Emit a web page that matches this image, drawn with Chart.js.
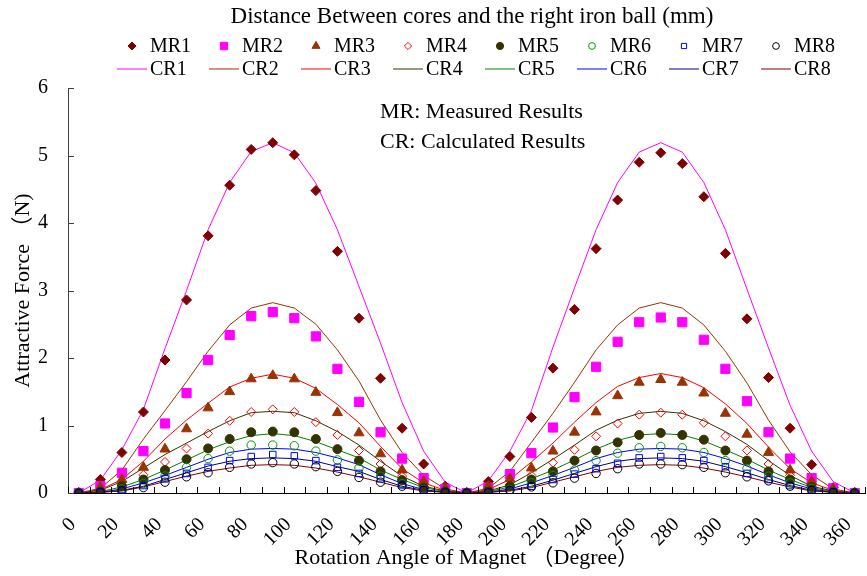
<!DOCTYPE html>
<html>
<head>
<meta charset="utf-8">
<script src="https://cdn.jsdelivr.net/npm/chart.js@4.4.1/dist/chart.umd.min.js"></script>
<style>
  html, body { margin: 0; padding: 0; background: #fff; overflow: hidden; width: 867px; height: 576px; }
  /* a few pixels wider than the page so the last category ends at the page edge */
  #forceChart { display: block; }
</style>
</head>
<body>
<canvas id="forceChart" width="873" height="576"></canvas>
<script>
// Rotation angle (degree), one category every 10 degrees
const angles = ['0', '10', '20', '30', '40', '50', '60', '70', '80', '90', '100', '110', '120', '130', '140', '150', '160', '170', '180',
    '190', '200', '210', '220', '230', '240', '250', '260', '270', '280', '290', '300', '310', '320', '330', '340', '350', '360'];

// Measured results (N)
const mr1 = [0, 0.2, 0.6, 1.2, 1.97, 2.86, 3.81, 4.56, 5.09, 5.19, 5.01, 4.48, 3.58, 2.59, 1.70, 0.96, 0.43, 0.1, 0,
    0.17, 0.54, 1.12, 1.85, 2.72, 3.62, 4.34, 4.90, 5.04, 4.88, 4.39, 3.55, 2.58, 1.71, 0.96, 0.42, 0.08, 0];
const mr2 = [0, 0.1, 0.3, 0.62, 1.03, 1.48, 1.97, 2.34, 2.62, 2.68, 2.59, 2.32, 1.84, 1.35, 0.90, 0.51, 0.22, 0.06, 0,
    0.08, 0.28, 0.59, 0.97, 1.42, 1.87, 2.24, 2.53, 2.60, 2.53, 2.27, 1.84, 1.36, 0.90, 0.51, 0.22, 0.07, 0];
const mr3 = [0, 0.08, 0.2, 0.38, 0.65, 0.95, 1.26, 1.50, 1.69, 1.74, 1.69, 1.49, 1.19, 0.89, 0.58, 0.34, 0.17, 0.07, 0,
    0.1, 0.21, 0.37, 0.62, 0.90, 1.20, 1.44, 1.64, 1.68, 1.64, 1.48, 1.18, 0.87, 0.60, 0.34, 0.17, 0.06, 0];
const mr4 = [0, 0.03, 0.12, 0.27, 0.46, 0.66, 0.88, 1.07, 1.20, 1.24, 1.20, 1.05, 0.86, 0.63, 0.43, 0.25, 0.1, 0.03, 0,
    0.03, 0.12, 0.26, 0.45, 0.64, 0.84, 1.03, 1.16, 1.19, 1.16, 1.04, 0.84, 0.63, 0.43, 0.26, 0.12, 0.03, 0];
const mr5 = [0, 0.02, 0.1, 0.2, 0.34, 0.50, 0.66, 0.80, 0.90, 0.91, 0.90, 0.80, 0.65, 0.48, 0.32, 0.19, 0.08, 0.02, 0,
    0.02, 0.1, 0.2, 0.32, 0.48, 0.63, 0.75, 0.86, 0.89, 0.86, 0.79, 0.63, 0.48, 0.32, 0.2, 0.09, 0.02, 0];
const mr6 = [0, 0.01, 0.06, 0.14, 0.25, 0.38, 0.51, 0.62, 0.71, 0.71, 0.70, 0.62, 0.49, 0.37, 0.25, 0.14, 0.05, 0.01, 0,
    0.01, 0.05, 0.15, 0.26, 0.34, 0.48, 0.59, 0.67, 0.69, 0.67, 0.60, 0.48, 0.36, 0.25, 0.15, 0.07, 0.02, 0];
const mr7 = [0, 0.01, 0.05, 0.11, 0.21, 0.29, 0.38, 0.48, 0.54, 0.57, 0.55, 0.48, 0.38, 0.29, 0.21, 0.12, 0.05, 0.01, 0,
    0.01, 0.04, 0.1, 0.2, 0.28, 0.36, 0.44, 0.52, 0.54, 0.52, 0.48, 0.39, 0.29, 0.2, 0.11, 0.05, 0.01, 0];
const mr8 = [0, 0.01, 0.03, 0.08, 0.16, 0.24, 0.30, 0.38, 0.43, 0.45, 0.43, 0.39, 0.32, 0.23, 0.16, 0.1, 0.04, 0.01, 0,
    0.01, 0.04, 0.09, 0.15, 0.22, 0.29, 0.36, 0.43, 0.43, 0.42, 0.38, 0.30, 0.24, 0.18, 0.1, 0.04, 0.01, 0];

// Calculated results (N)
const cr1 = [0, 0.19, 0.64, 1.24, 2.14, 3.0, 3.9, 4.6, 5.06, 5.19, 5.04, 4.59, 3.9, 3.06, 2.22, 1.34, 0.62, 0.16, 0,
    0.18, 0.62, 1.22, 2.16, 3.04, 3.9, 4.6, 5.05, 5.19, 5.05, 4.6, 3.9, 3.02, 2.15, 1.3, 0.62, 0.17, 0];
const cr2 = [0, 0.07, 0.34, 0.8, 1.22, 1.65, 2.1, 2.49, 2.74, 2.82, 2.74, 2.5, 2.12, 1.66, 1.08, 0.6, 0.26, 0.06, 0,
    0.07, 0.32, 0.75, 1.18, 1.64, 2.12, 2.49, 2.74, 2.82, 2.74, 2.49, 2.1, 1.63, 1.08, 0.61, 0.27, 0.06, 0];
const cr3 = [0, 0.05, 0.2, 0.47, 0.8, 1.08, 1.33, 1.57, 1.70, 1.76, 1.70, 1.55, 1.31, 1.04, 0.69, 0.36, 0.15, 0.04, 0,
    0.05, 0.2, 0.46, 0.74, 1.05, 1.34, 1.58, 1.71, 1.77, 1.71, 1.56, 1.32, 1.03, 0.68, 0.36, 0.15, 0.04, 0];
const cr4 = [0, 0.04, 0.17, 0.37, 0.57, 0.74, 0.91, 1.07, 1.19, 1.21, 1.19, 1.07, 0.91, 0.71, 0.47, 0.25, 0.1, 0.03, 0,
    0.03, 0.12, 0.3, 0.5, 0.71, 0.93, 1.08, 1.18, 1.21, 1.18, 1.07, 0.91, 0.72, 0.48, 0.26, 0.1, 0.03, 0];
const cr5 = [0, 0.02, 0.09, 0.2, 0.34, 0.49, 0.64, 0.76, 0.85, 0.88, 0.85, 0.76, 0.64, 0.52, 0.34, 0.2, 0.08, 0.02, 0,
    0.02, 0.09, 0.21, 0.34, 0.49, 0.65, 0.78, 0.86, 0.88, 0.86, 0.77, 0.64, 0.5, 0.34, 0.2, 0.08, 0.02, 0];
const cr6 = [0, 0.01, 0.06, 0.15, 0.26, 0.38, 0.5, 0.6, 0.65, 0.66, 0.65, 0.6, 0.52, 0.42, 0.27, 0.14, 0.05, 0.01, 0,
    0.01, 0.06, 0.15, 0.26, 0.38, 0.51, 0.6, 0.65, 0.66, 0.65, 0.6, 0.51, 0.4, 0.27, 0.15, 0.06, 0.01, 0];
const cr7 = [0, 0.01, 0.04, 0.1, 0.2, 0.3, 0.4, 0.47, 0.51, 0.52, 0.51, 0.47, 0.39, 0.32, 0.2, 0.1, 0.04, 0.01, 0,
    0.01, 0.04, 0.1, 0.19, 0.29, 0.39, 0.47, 0.51, 0.52, 0.51, 0.47, 0.39, 0.3, 0.2, 0.11, 0.04, 0.01, 0];
const cr8 = [0, 0.01, 0.03, 0.09, 0.17, 0.25, 0.32, 0.37, 0.41, 0.42, 0.41, 0.37, 0.31, 0.24, 0.16, 0.08, 0.03, 0.01, 0,
    0.01, 0.03, 0.08, 0.16, 0.24, 0.32, 0.38, 0.41, 0.42, 0.41, 0.37, 0.31, 0.24, 0.16, 0.09, 0.03, 0.01, 0];

const serif = '"Liberation Serif", "Times New Roman", "Noto Sans CJK SC", serif';
const clear = 'rgba(0, 0, 0, 0)';

// markers only, no connecting line
function measured(label, data, style, color, fill, radius) {
    return {
        label: label,
        data: data,
        showLine: false,
        pointStyle: style,
        pointRadius: radius,
        pointHoverRadius: radius,
        pointBorderWidth: 1,
        pointBorderColor: color,
        pointBackgroundColor: fill,
        borderColor: color,
        backgroundColor: fill
    };
}

// thin line, no markers
function calculated(label, data, color) {
    return {
        label: label,
        data: data,
        borderColor: color,
        backgroundColor: color,
        borderWidth: 1,
        pointRadius: 0,
        pointHoverRadius: 0,
        tension: 0,
        fill: false
    };
}

const datasets = [
    measured('MR1', mr1, 'rectRot', '#800000', '#800000', 5),
    measured('MR2', mr2, 'rect', '#FF00FF', '#FF00FF', 6.5),
    measured('MR3', mr3, 'triangle', '#993300', '#993300', 5.8),
    measured('MR4', mr4, 'rectRot', '#FF0000', clear, 4.5),
    measured('MR5', mr5, 'circle', '#333300', '#333300', 4.5),
    measured('MR6', mr6, 'circle', '#009900', clear, 4.2),
    measured('MR7', mr7, 'rect', '#0000FF', clear, 4.6),
    measured('MR8', mr8, 'circle', '#000000', clear, 4.2),
    calculated('CR1', cr1, '#FF00FF'),
    calculated('CR2', cr2, '#993300'),
    calculated('CR3', cr3, '#FF0000'),
    calculated('CR4', cr4, '#333300'),
    calculated('CR5', cr5, '#008000'),
    calculated('CR6', cr6, '#0000FF'),
    calculated('CR7', cr7, '#000080'),
    calculated('CR8', cr8, '#800000')
];
// later series on top, markers above the lines
datasets.forEach((ds, i) => { ds.order = i < 8 ? 8 - i : 100 - i; });

// Title, two-row legend, notes and inward tick marks
const decorations = {
    id: 'decorations',
    afterDraw(chart) {
        const ctx = chart.ctx;
        const drawPoint = Chart.helpers.drawPoint;
        ctx.save();
        ctx.fillStyle = '#000';
        ctx.textBaseline = 'middle';

        ctx.font = '23px ' + serif;
        ctx.textAlign = 'center';
        ctx.fillText('Distance Between cores and the right iron ball (mm)', 472, 17);

        ctx.font = '20px ' + serif;
        ctx.textAlign = 'left';
        chart.data.datasets.forEach((ds, i) => {
            const col = i % 8;
            const x0 = 117 + col * 92;
            const y = i < 8 ? 46 : 69;
            ctx.save();
            if (i < 8) {
                ctx.fillStyle = ds.pointBackgroundColor;
                ctx.strokeStyle = ds.pointBorderColor;
                ctx.lineWidth = 1;
                drawPoint(ctx, { pointStyle: ds.pointStyle, radius: ds.pointRadius * 0.8, rotation: 0, borderWidth: 1 }, x0 + 15, y);
            } else {
                ctx.strokeStyle = ds.borderColor;
                ctx.lineWidth = 1;
                ctx.beginPath();
                ctx.moveTo(x0, y);
                ctx.lineTo(x0 + 30, y);
                ctx.stroke();
            }
            ctx.restore();
            ctx.fillText(ds.label, x0 + 33, y + 1);
        });

        ctx.font = '22px ' + serif;
        ctx.fillText('MR: Measured Results', 380, 112);
        ctx.fillText('CR: Calculated Results', 380, 142);

        // tick marks point into the plot
        const xs = chart.scales.x;
        const ys = chart.scales.y;
        const half = (xs.getPixelForValue(1) - xs.getPixelForValue(0)) / 2;
        ctx.lineWidth = 1;
        ctx.strokeStyle = '#000';
        ctx.beginPath();
        for (let i = 0; i <= angles.length; i++) {
            const x = Math.round(xs.getPixelForValue(0) - half + i * 2 * half) + 0.5;
            ctx.moveTo(x, ys.bottom);
            ctx.lineTo(x, ys.bottom - 6);
        }
        ctx.stroke();
        ctx.strokeStyle = '#404040';
        ctx.beginPath();
        ys.ticks.forEach(t => {
            const y = Math.round(ys.getPixelForValue(t.value)) + 0.5;
            ctx.moveTo(xs.left, y);
            ctx.lineTo(xs.left + 6, y);
        });
        ctx.stroke();
        ctx.restore();
    }
};

const ctx = document.getElementById('forceChart');
const forceChart = new Chart(ctx, {
    type: 'line',
    data: {
        labels: angles,
        datasets: datasets
    },
    options: {
        responsive: false,
        animation: false,
        layout: {
            padding: { top: 88, right: 0, left: 0, bottom: 0 }
        },
        scales: {
            x: {
                type: 'category',
                offset: true,
                grid: { display: false },
                border: { display: true, color: '#000', width: 1 },
                ticks: {
                    autoSkip: false,
                    minRotation: 45,
                    maxRotation: 45,
                    padding: 12,
                    labelOffset: -6,
                    color: '#000',
                    font: { family: serif, size: 20 },
                    callback: function (value, index) {
                        return index % 2 === 0 ? angles[index] : '';
                    }
                },
                title: {
                    display: true,
                    text: 'Rotation Angle of Magnet （Degree）',
                    color: '#000',
                    font: { family: serif, size: 22 },
                    padding: { top: 0, bottom: 5 }
                },
                afterFit: function (scale) {
                    scale.height = 83;
                    scale.paddingLeft = 0;
                    scale.paddingRight = 0;
                }
            },
            y: {
                min: 0,
                max: 6,
                grid: { display: false },
                border: { display: true, color: '#404040', width: 1 },
                ticks: {
                    stepSize: 1,
                    padding: 12,
                    color: '#000',
                    font: { family: serif, size: 20 }
                },
                title: {
                    display: true,
                    text: 'Attractive Force （N)',
                    color: '#000',
                    font: { family: serif, size: 22 },
                    padding: { top: 10, bottom: 0 }
                },
                afterFit: function (scale) {
                    scale.width = 68;
                    scale.paddingTop = 0;
                    scale.paddingBottom = 0;
                }
            }
        },
        plugins: {
            legend: { display: false },
            title: { display: false },
            tooltip: { enabled: false }
        }
    },
    plugins: [decorations]
});
</script>
</body>
</html>
